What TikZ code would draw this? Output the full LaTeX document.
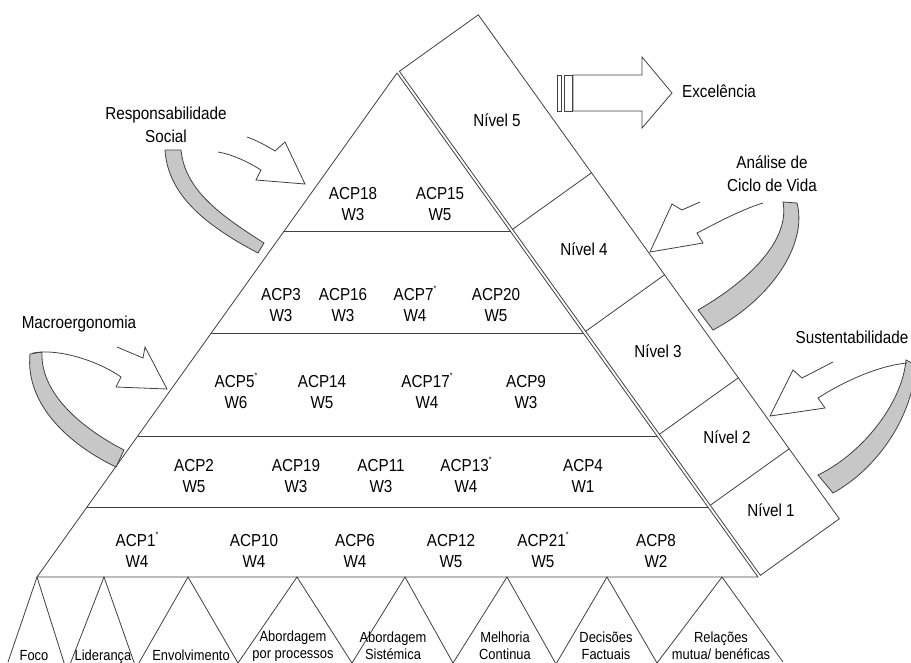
\documentclass[tikz,border=0pt]{standalone}
\usepackage{fontspec}
\setmainfont{Liberation Sans}[FakeStretch=0.88]
\usetikzlibrary{calc}

\newcommand{\marca}{\smash{\raisebox{0.5em}{\fontsize{6}{6}\selectfont*}}}

\tikzset{
    linie/.style={draw=black!75, line width=0.6pt, line join=miter},
    band/.style={linie, fill=black!22},
    acp/.style={align=center, inner sep=0pt, text=black, font=\fontsize{13}{16}\selectfont},
    nivel/.style={anchor=base, inner sep=0pt, text=black, font=\fontsize{13}{16}\selectfont},
    rotulo/.style={align=center, inner sep=0pt, text=black, font=\fontsize{13}{17}\selectfont},
    principio/.style={align=center, inner sep=0pt, text=black, font=\fontsize{11}{12.75}\selectfont},
}

\begin{document}
\begin{tikzpicture}[x=0.75pt, y=-0.75pt]
    \useasboundingbox (0,0) rectangle (911,662);
    \clip (0,0) rectangle (911,662);

    % Pyramide
    \coordinate (topo) at (397,73);
    \coordinate (be) at (37,577);
    \coordinate (bd) at (758,577);
    \draw[linie] (be) -- (topo) -- (bd) -- cycle;
    \foreach \h in {0.1389, 0.2798, 0.4841, 0.6865}
        \draw[linie] ($(be)!\h!(topo)$) -- ($(bd)!\h!(topo)$);

    % Niveis (Streifen rechts)
    \draw[linie] ($(topo)+(2.4,-1.7)$) -- ($(bd)+(2.4,-1.7)$) -- ($(bd)+(81.3,-58.2)$) -- ($(topo)+(81.3,-58.2)$) -- cycle;
    \foreach \h in {0.1389, 0.2798, 0.4841, 0.6865}
        \draw[linie] ($(bd)!\h!(topo)+(2.4,-1.7)$) -- ($(bd)!\h!(topo)+(81.3,-58.2)$);

    % Prinzipien unten
    \draw[linie] (8,662) -- (37,577) -- (67,672) -- (104,577) -- (136,668) -- (188,577) -- (238,663) -- (297,577) -- (352,663) -- (405,577) -- (453,663) -- (507,577) -- (556,664) -- (607,577) -- (657,663) -- (722,577) -- (783,662);

    % Pfeil Excelencia
    \draw[linie] (557,75) rectangle (561,111);
    \draw[linie] (564,75) rectangle (572,111);
    \draw[linie] (573,75) -- (642,75) -- (642,57) -- (672,93) -- (642,128) -- (642,111) -- (573,111) -- cycle;

    % gebogene Pfeile
    \draw[band] (165,150) .. controls (168,195) and (205,225) .. (258,253) -- (264,243) .. controls (220,215) and (185,190) .. (181,150) -- cycle;
    \draw[linie] (247,137) .. controls (258,141) and (267,146) .. (275,151) -- (285,142) -- (305,184) -- (256,180) -- (261,170) .. controls (245,160) and (230,154) .. (218,152);

    \draw[band] (797,203) .. controls (808,245) and (770,300) .. (713,330) -- (698,310) .. controls (750,280) and (790,240) .. (783,202) -- cycle;
    \draw[linie] (700,202) -- (682,210) -- (672,204) -- (650,252) -- (703,243) -- (697,233) .. controls (715,224) and (740,210) .. (763,203);

    \draw[band] (916,365) .. controls (912,420) and (875,470) .. (833,493) -- (818,475) .. controls (860,455) and (902,405) .. (906,360) -- cycle;
    \draw[linie] (833,362) -- (802,378) -- (793,370) -- (770,416) -- (825,408) -- (818,398) .. controls (838,385) and (875,366) .. (907,363);

    \draw[band] (30,354) .. controls (25,405) and (70,445) .. (116,467) -- (124,450) .. controls (85,430) and (40,395) .. (42,352) -- cycle;
    \draw[linie] (117,347) -- (143,358) -- (145,347) -- (167,389) -- (116,387) -- (121,377) .. controls (100,362) and (60,348) .. (33,353);

    % Beschriftungen aussen
    \node[rotulo] (social) at (166,125) {Responsabilidade\\Social};
    \node[rotulo] (ciclo) at (772,174) {Análise de\\Ciclo de Vida};
    \node[rotulo, anchor=base] (sustent) at (852,343) {Sustentabilidade};
    \node[rotulo, anchor=base] (macro) at (79,328) {Macroergonomia};
    \node[rotulo, anchor=base] (excelencia) at (719,97) {Excelência};

    % Ebene 5
    \node[acp] (acp18) at (353,204) {ACP18\\W3};
    \node[acp] (acp15) at (440,204) {ACP15\\W5};
    % Ebene 4
    \node[acp] (acp3) at (281,305) {ACP3\\W3};
    \node[acp] (acp16) at (343,305) {ACP16\\W3};
    \node[acp] (acp7) at (415,305) {ACP7\marca\\W4};
    \node[acp] (acp20) at (496,305) {ACP20\\W5};
    % Ebene 3
    \node[acp] (acp5) at (236,392) {ACP5\marca\\W6};
    \node[acp] (acp14) at (322,392) {ACP14\\W5};
    \node[acp] (acp17) at (427,392) {ACP17\marca\\W4};
    \node[acp] (acp9) at (526,392) {ACP9\\W3};
    % Ebene 2
    \node[acp] (acp2) at (194,476) {ACP2\\W5};
    \node[acp] (acp19) at (296,476) {ACP19\\W3};
    \node[acp] (acp11) at (381,476) {ACP11\\W3};
    \node[acp] (acp13) at (466,476) {ACP13\marca\\W4};
    \node[acp] (acp4) at (583,476) {ACP4\\W1};
    % Ebene 1
    \node[acp] (acp1) at (137,551) {ACP1\marca\\W4};
    \node[acp] (acp10) at (254,551) {ACP10\\W4};
    \node[acp] (acp6) at (355,551) {ACP6\\W4};
    \node[acp] (acp12) at (451,551) {ACP12\\W5};
    \node[acp] (acp21) at (543,551) {ACP21\marca\\W5};
    \node[acp] (acp8) at (656,551) {ACP8\\W2};

    % Niveis
    \node[nivel] (n5) at (497,126) {Nível 5};
    \node[nivel] (n4) at (584,255) {Nível 4};
    \node[nivel] (n3) at (658,357) {Nível 3};
    \node[nivel] (n2) at (727,443) {Nível 2};
    \node[nivel] (n1) at (771,516) {Nível 1};

    % Prinzipien
    \node[principio, anchor=base] (foco) at (34,660) {Foco};
    \node[principio, anchor=base] (lideranca) at (103,660) {Liderança};
    \node[principio, anchor=base] (envolvimento) at (191,660) {Envolvimento};
    \node[principio] (processos) at (293,646) {Abordagem\\por processos};
    \node[principio] (sistemica) at (393,646) {Abordagem\\Sistémica};
    \node[principio] (melhoria) at (505,646) {Melhoria\\Continua};
    \node[principio] (decisoes) at (606,646) {Decisões\\Factuais};
    \node[principio] (relacoes) at (721,646) {Relações\\mutua/ benéficas};
\end{tikzpicture}
\end{document}
